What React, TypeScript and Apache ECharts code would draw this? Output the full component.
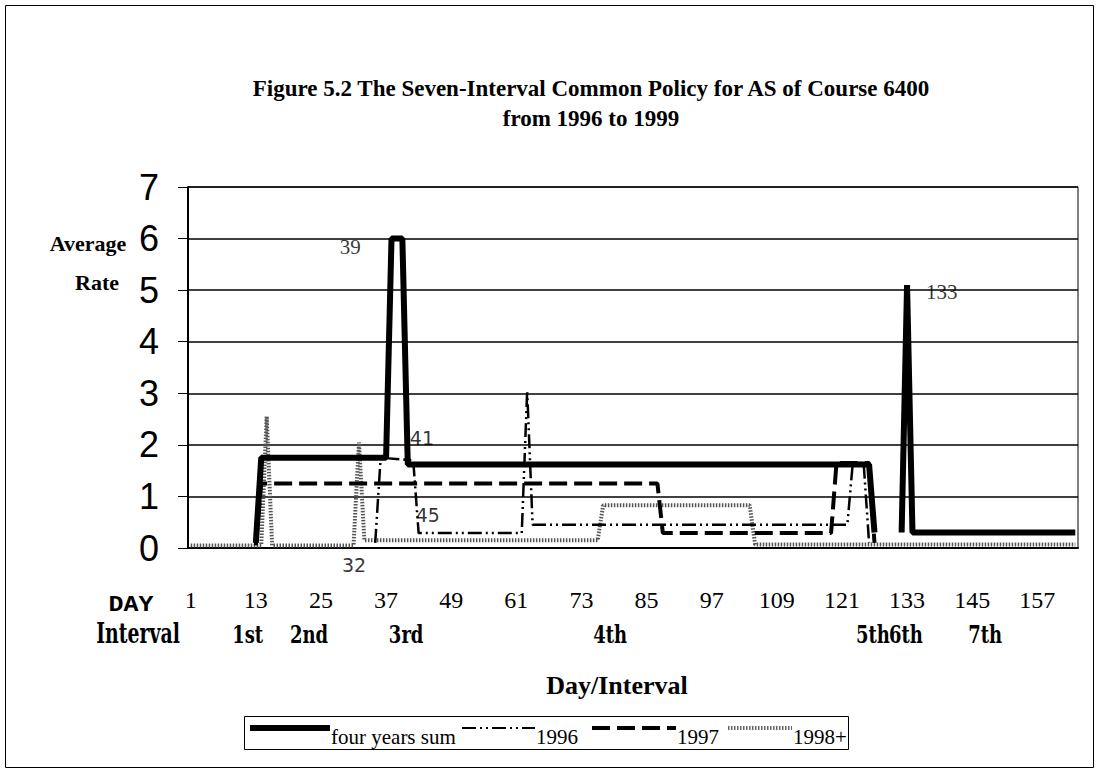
import React, { useEffect, useRef } from "react";
import * as echarts from "echarts";

// ---- data ----
const dayCount = 164;
const days = Array.from({ length: dayCount }, (_, i) => String(i + 1));
const yTicks = [0, 1, 2, 3, 4, 5, 6, 7];

// [day, value] breakpoints; "-" = no value
const sumSeries: (number | string)[][] = [
  [13, 0.1], [14, 1.75], [37, 1.75], [38, 6], [40, 6], [41, 1.62], [126, 1.62], [127, 0.3],
  [128, "-"], [132, 0.3], [133, 5.1], [134, 0.3], [164, 0.3],
];
const y1996: (number | string)[][] = [
  [35, 0.1], [36, 1.75], [42, 1.7], [43, 0.29], [62, 0.29], [63, 3.05], [64, 0.45],
  [122, 0.45], [123, 1.65], [125, 1.65], [126, 0.1],
];
const y1997: (number | string)[][] = [
  [13, 0.05], [14, 1.25], [87, 1.25], [88, 0.29], [119, 0.29], [120, 1.65], [126, 1.65], [127, 0.1],
];
const y1998: (number | string)[][] = [
  [1, 0.05], [14, 0.05], [15, 2.55], [16, 0.05], [31, 0.05], [32, 2.05], [33, 0.15], [76, 0.15],
  [77, 0.83], [104, 0.83], [105, 0.07], [164, 0.07],
];
const notes: { text: string; day: number; value: number; serif: boolean }[] = [
  { text: "39", day: 30.4, value: 5.83, serif: true },
  { text: "41", day: 43.6, value: 2.13, serif: false },
  { text: "45", day: 44.7, value: 0.64, serif: false },
  { text: "32", day: 31.1, value: -0.33, serif: false },
  { text: "133", day: 139.4, value: 4.96, serif: true },
];
const intervalLabels = [
  { text: "1st", day: 11.5 },
  { text: "2nd", day: 22.8 },
  { text: "3rd", day: 40.7 },
  { text: "4th", day: 78.3 },
  { text: "5th", day: 126.7 },
  { text: "6th", day: 132.8 },
  { text: "7th", day: 147.4 },
];
const seriesNames = ["four years sum", "1996", "1997", "1998+"];

const SERIF = "'Liberation Serif', 'Times New Roman', serif";
const SANS = "'Liberation Sans', Arial, sans-serif";
const VERD = "'DejaVu Sans', Verdana, sans-serif";
const SLAB = "'DejaVu Serif', serif";

export default function App() {
  const ref = useRef<HTMLDivElement>(null);
  useEffect(() => {
    if (!ref.current) return;
    const chart = echarts.init(ref.current, null, { renderer: "svg" });
    const gridLeft = 188, gridTop = 187, gridW = 890, gridH = 361;
    const step = gridW / dayCount;
    const xOf = (d: number) => gridLeft + (d - 0.5) * step;

    const legendY = 728;
    const legendItems = [
      { x: 250, w: 80, text: seriesNames[0], style: { stroke: "#000", lineWidth: 6 } },
      { x: 462, w: 73, text: seriesNames[1], style: { stroke: "#000", lineWidth: 2, lineDash: [14, 4, 2, 4, 2, 4] } },
      { x: 592, w: 84, text: seriesNames[2], style: { stroke: "#000", lineWidth: 4, lineDash: [18, 7] } },
      { x: 728, w: 64, text: seriesNames[3], style: { stroke: "#666", lineWidth: 4, lineDash: [1.5, 1.5] } },
    ];
    const graphics: any[] = [
      { type: "rect", shape: { x: 5.5, y: 5.5, width: 1088, height: 762 }, style: { fill: "none", stroke: "#000", lineWidth: 1 } },
      { type: "text", x: 591, y: 88, style: { text: "Figure 5.2 The Seven-Interval Common Policy for AS of Course 6400", font: `bold 23px ${SERIF}`, fill: "#000", align: "center", verticalAlign: "middle" } },
      { type: "text", x: 591, y: 118, style: { text: "from 1996 to 1999", font: `bold 23px ${SERIF}`, fill: "#000", align: "center", verticalAlign: "middle" } },
      { type: "text", x: 88, y: 243, style: { text: "Average", font: `bold 22px ${SERIF}`, fill: "#000", align: "center", verticalAlign: "middle" } },
      { type: "text", x: 97, y: 282, style: { text: "Rate", font: `bold 22px ${SERIF}`, fill: "#000", align: "center", verticalAlign: "middle" } },
      { type: "text", x: 131, y: 606, scaleY: 0.85, style: { text: "DAY", font: `bold 25px 'Liberation Mono', 'Courier New', monospace`, fill: "#000", align: "center", verticalAlign: "middle" } },
      { type: "text", x: 138, y: 633, scaleX: 0.7, style: { text: "Interval", font: `bold 27px ${SLAB}`, fill: "#000", align: "center", verticalAlign: "middle" } },
      { type: "text", x: 617, y: 685, style: { text: "Day/Interval", font: `bold 26px ${SERIF}`, fill: "#000", align: "center", verticalAlign: "middle" } },
      { type: "rect", shape: { x: 244.5, y: 716.5, width: 604, height: 33 }, style: { fill: "#fff", stroke: "#000", lineWidth: 1 } },
    ];
    intervalLabels.forEach((l) => {
      graphics.push({ type: "text", x: xOf(l.day), y: 634, scaleX: 0.72, style: { text: l.text, font: `bold 25px ${SLAB}`, fill: "#000", align: "center", verticalAlign: "middle" } });
    });
    legendItems.forEach((it) => {
      graphics.push({ type: "line", shape: { x1: it.x, y1: legendY, x2: it.x + it.w, y2: legendY }, style: it.style });
      graphics.push({ type: "text", x: it.x + it.w + 1, y: legendY + 9, style: { text: it.text, font: `21px ${SERIF}`, fill: "#000", align: "left", verticalAlign: "middle" } });
    });

    const option: any = {
      animation: false,
      backgroundColor: "#fff",
      grid: { left: gridLeft, top: gridTop, width: gridW, height: gridH, show: true, borderColor: "#000", borderWidth: 1 },
      xAxis: [
        {
          type: "category",
          data: days,
          boundaryGap: true,
          axisLine: { lineStyle: { color: "#000", width: 2 } },
          axisTick: { show: false },
          axisLabel: { interval: 11, color: "#000", fontFamily: SERIF, fontSize: 24, margin: 40 },
          splitLine: { show: false },
        },
        { type: "value", min: 0.5, max: dayCount + 0.5, show: false, splitLine: { show: false } },
      ],
      yAxis: {
        type: "value",
        min: yTicks[0],
        max: yTicks[yTicks.length - 1],
        interval: 1,
        axisLine: { show: true, lineStyle: { color: "#000", width: 2 } },
        axisTick: { show: true, length: 10, inside: false, lineStyle: { color: "#000" } },
        axisLabel: { color: "#000", fontFamily: SANS, fontSize: 36, margin: 29 },
        splitLine: { lineStyle: { color: "#000", width: 1.5 } },
      },
      series: [
        { name: seriesNames[3], type: "line", xAxisIndex: 1, data: y1998, symbol: "none", lineStyle: { color: "#555", width: 4, type: [1.5, 1.5] }, z: 2 },
        { name: seriesNames[1], type: "line", xAxisIndex: 1, data: y1996, symbol: "none", lineStyle: { color: "#000", width: 2.5, type: [14, 4, 2, 4, 2, 4] }, z: 3 },
        { name: seriesNames[2], type: "line", xAxisIndex: 1, data: y1997, symbol: "none", lineStyle: { color: "#000", width: 4, type: [18, 7] }, z: 3 },
        { name: seriesNames[0], type: "line", xAxisIndex: 1, data: sumSeries, symbol: "none", lineStyle: { color: "#000", width: 6 }, z: 4 },
        {
          type: "scatter", xAxisIndex: 1, clip: false, symbolSize: 0, z: 5,
          data: notes.map((n) => ({
            value: [n.day, n.value],
            label: { formatter: n.text, fontFamily: n.serif ? SERIF : VERD, fontSize: n.serif ? 21 : 19 },
          })),
          label: { show: true, position: "inside", color: "#000" },
        },
      ],
      graphic: graphics,
    };
    chart.setOption(option);
    return () => chart.dispose();
  }, []);
  return <div ref={ref} style={{ position: "fixed", left: 0, top: 0, width: 1101, height: 773, background: "#fff" }} />;
}
